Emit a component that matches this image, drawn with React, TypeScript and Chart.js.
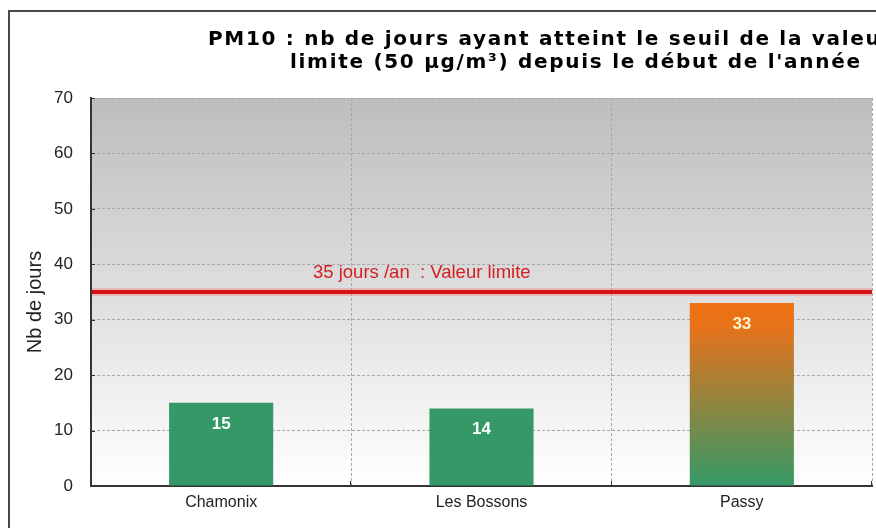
import React, { useEffect, useRef } from "react";
import { Chart, registerables } from "chart.js";

Chart.register(...registerables);

// ---- data ----
const categories = ["Chamonix", "Les Bossons", "Passy"];
const exceedanceDays = [15, 14, 33];
const limitDays = [35];
const limitLabel = ["35 jours /an  : Valeur limite"];
const yTickValues = [0, 10, 20, 30, 40, 50, 60, 70];
const titleLines = [
  "PM10 : nb de jours ayant atteint le seuil de la valeur",
  "limite (50 µg/m³) depuis le début de l'année",
];
const yAxisTitle = ["Nb de jours"];

// ---- styles ----
const GREEN = "#349967";
const ORANGE = "#ee7010";
const SANS = "'Liberation Sans', Arial, sans-serif";
const TITLE_FONT = "bold 20px 'DejaVu Sans', Verdana, sans-serif";

function barFill(ctx: any) {
  const chart = ctx.chart;
  const i = ctx.dataIndex;
  if (i !== 2) return GREEN;
  const y = chart.scales?.y;
  if (!y || !chart.chartArea) return ORANGE;
  const top = y.getPixelForValue(exceedanceDays[i]);
  const bottom = y.getPixelForValue(0);
  const g = chart.ctx.createLinearGradient(0, top, 0, bottom);
  g.addColorStop(0, ORANGE);
  g.addColorStop(0.12, "#e8721a");
  g.addColorStop(1, GREEN);
  return g;
}

const decor = {
  id: "decor",
  beforeDraw(chart: any) {
    const { ctx, chartArea: a } = chart;
    if (!a) return;
    const g = ctx.createLinearGradient(0, a.top, 0, a.bottom);
    g.addColorStop(0, "#bdbdbd");
    g.addColorStop(1, "#ffffff");
    ctx.save();
    ctx.fillStyle = g;
    ctx.fillRect(a.left, a.top, a.right - a.left, a.bottom - a.top);
    ctx.restore();
  },
  afterDatasetsDraw(chart: any) {
    const { ctx, chartArea: a } = chart;
    const meta = chart.getDatasetMeta(0);
    ctx.save();
    ctx.textAlign = "center";
    ctx.textBaseline = "middle";
    meta.data.forEach((bar: any, i: number) => {
      ctx.font = "bold 17px " + SANS;
      ctx.fillStyle = i === 2 ? "#fff1c8" : "#ffffff";
      ctx.fillText(String(exceedanceDays[i]), bar.x, bar.y + 21);
    });
    ctx.restore();

    // small inward tick marks
    ctx.save();
    ctx.strokeStyle = "#333333";
    ctx.lineWidth = 1;
    const ys = chart.scales.y;
    yTickValues.forEach((v) => {
      const py = Math.round(ys.getPixelForValue(v)) + 0.5;
      ctx.beginPath();
      ctx.moveTo(a.left, py);
      ctx.lineTo(a.left + 4, py);
      ctx.stroke();
    });
    const n = categories.length;
    for (let i = 1; i <= n; i++) {
      const px = Math.round(a.left + ((a.right - a.left) * i) / n) - 0.5;
      ctx.beginPath();
      ctx.moveTo(px, a.bottom);
      ctx.lineTo(px, a.bottom - 5);
      ctx.stroke();
    }
    ctx.restore();

    // limit line
    const y = chart.scales.y.getPixelForValue(limitDays[0]);
    ctx.save();
    ctx.strokeStyle = "rgba(235,140,140,0.45)";
    ctx.lineWidth = 8;
    ctx.beginPath();
    ctx.moveTo(a.left + 1, y);
    ctx.lineTo(a.right, y);
    ctx.stroke();
    ctx.strokeStyle = "#d41212";
    ctx.lineWidth = 4;
    ctx.beginPath();
    ctx.moveTo(a.left + 1, y);
    ctx.lineTo(a.right, y);
    ctx.stroke();
    ctx.font = "18.5px " + SANS;
    ctx.fillStyle = "#d42020";
    ctx.textAlign = "left";
    ctx.textBaseline = "alphabetic";
    ctx.fillText(limitLabel[0], 303, y - 14);
    ctx.restore();
  },
  afterDraw(chart: any) {
    const { ctx, chartArea: a } = chart;
    ctx.save();
    ctx.font = TITLE_FONT;
    (ctx as any).letterSpacing = "1.7px";
    ctx.fillStyle = "#000000";
    ctx.textAlign = "left";
    ctx.textBaseline = "alphabetic";
    ctx.fillText(titleLines[0], 198, 33);
    ctx.fillText(titleLines[1], 280, 56);
    (ctx as any).letterSpacing = "0px";
    // y axis title
    ctx.translate(25, (a.top + a.bottom) / 2 + 10);
    ctx.rotate(-Math.PI / 2);
    ctx.font = "20px " + SANS;
    ctx.fillStyle = "#222222";
    ctx.textAlign = "center";
    ctx.textBaseline = "middle";
    ctx.fillText(yAxisTitle[0], 0, 0);
    ctx.restore();
  },
};

export default function App() {
  const ref = useRef<HTMLCanvasElement | null>(null);
  useEffect(() => {
    if (!ref.current) return;
    const chart = new Chart(ref.current, {
      type: "bar",
      data: {
        labels: categories,
        datasets: [
          {
            data: exceedanceDays,
            backgroundColor: barFill as any,
            borderWidth: 0,
            categoryPercentage: 1,
            barPercentage: 0.4,
          },
        ],
      },
      options: {
        animation: false,
        responsive: false,
        maintainAspectRatio: false,
        layout: { padding: { top: 86, right: 4, left: 0, bottom: 0 } },
        plugins: {
          legend: { display: false },
          title: { display: false },
          tooltip: { enabled: false },
        },
        scales: {
          x: {
            afterFit: (s: any) => {
              s.height = 42;
            },
            grid: {
              display: true,
              color: "#a8a8a8",
              lineWidth: 1,
              drawTicks: false,
              offset: true,
            },
            border: { display: true, color: "#333333", width: 2, dash: [3, 2] },
            ticks: {
              padding: 7,
              color: "#222222",
              font: { family: SANS, size: 16 },
            },
          },
          y: {
            min: 0,
            max: 70,
            afterFit: (s: any) => {
              s.width = 81;
            },
            afterBuildTicks: (s: any) => {
              s.ticks = yTickValues.map((v) => ({ value: v }));
            },
            grid: {
              color: "#a8a8a8",
              lineWidth: 1,
              drawTicks: false,
            },
            border: { display: true, color: "#333333", width: 2, dash: [3, 2] },
            ticks: {
              padding: 18,
              color: "#222222",
              font: { family: SANS, size: 17 },
            },
          },
        },
      },
      plugins: [decor],
    });
    return () => chart.destroy();
  }, []);

  return (
    <div
      style={{
        position: "absolute",
        left: 8,
        top: 10,
        width: 866,
        height: 518,
        borderLeft: "2px solid #4a4a4a",
        borderTop: "2px solid #4a4a4a",
        overflow: "hidden",
        background: "#ffffff",
      }}
    >
      <canvas ref={ref} width={866} height={516} style={{ display: "block", width: 866, height: 516 }} />
    </div>
  );
}
